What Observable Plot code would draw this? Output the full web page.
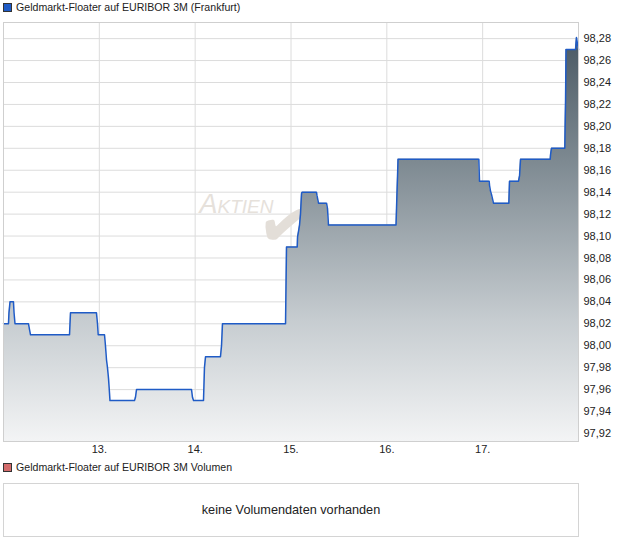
<!DOCTYPE html>
<html><head><meta charset="utf-8">
<script src="https://cdn.jsdelivr.net/npm/d3@7"></script>
<script src="https://cdn.jsdelivr.net/npm/@observablehq/plot@0.6"></script>
<style>
body{margin:0;background:#fff;font-family:"Liberation Sans",Arial,sans-serif;font-size:10.6px;color:#222;}
.leg{position:relative;height:18px;line-height:13px;}
.sw{position:absolute;left:3px;top:3px;width:7px;height:7px;border:1px solid #333;}
.lt{position:absolute;left:16px;top:1px;white-space:nowrap;}
#chart svg{display:block;}
#vol{margin-left:3px;width:574px;height:52px;border:1px solid #d4d4d4;display:flex;align-items:center;justify-content:center;font-size:12.7px;color:#222;}
</style></head><body>
<div class="leg"><span class="sw" style="background:#1f5bc6"></span><span class="lt" id="t1"></span></div>
<div id="chart"></div>
<div class="leg" style="height:23px"><span class="sw" style="background:#d36b6b;top:3px"></span><span class="lt" id="t2"></span></div>
<div id="vol"></div>
<script>
const seriesTitle = "Geldmarkt-Floater auf EURIBOR 3M (Frankfurt)";
const volumeTitle = "Geldmarkt-Floater auf EURIBOR 3M Volumen";
const volumeNote = "keine Volumendaten vorhanden";
const watermark = "Aktien";
const checkGlyph = "\u2714\uFE0E";

// time as fractional day of month
const times = [12.000,12.052,12.057,12.068,12.104,12.110,12.120,12.261,12.271,12.282,12.689,12.699,12.970,12.981,12.988,
  13.054,13.064,13.075,13.085,13.096,13.106,13.111,13.367,13.377,13.388,13.962,13.972,13.983,
  14.087,14.097,14.108,14.264,14.275,14.285,14.943,14.953,
  15.065,15.068,15.078,15.089,15.099,15.110,15.117,15.266,15.271,15.287,15.371,15.381,15.391,
  16.096,16.101,16.117,16.960,16.967,
  17.068,17.072,17.082,17.092,17.113,17.273,17.280,17.374,17.385,17.395,17.705,17.708,17.718,17.857,17.865,17.870,17.969,17.979,17.990,18.000];
const prices = [98.02,98.02,98.03,98.04,98.04,98.03,98.02,98.02,98.015,98.01,98.01,98.03,98.03,98.02,98.01,
  98.01,98.00,97.987,97.98,97.97,97.957,97.95,97.95,97.953,97.96,97.96,97.953,97.95,
  97.95,97.98,97.99,97.99,98.00,98.02,98.02,98.09,
  98.09,98.099,98.104,98.11,98.12,98.139,98.14,98.14,98.137,98.13,98.13,98.125,98.11,
  98.11,98.125,98.17,98.17,98.15,
  98.15,98.146,98.141,98.138,98.13,98.13,98.15,98.15,98.155,98.17,98.17,98.174,98.18,98.18,98.225,98.27,98.27,98.281,98.275,98.27];
const yTicks = [97.92,97.94,97.96,97.98,98.00,98.02,98.04,98.06,98.08,98.10,98.12,98.14,98.16,98.18,98.20,98.22,98.24,98.26,98.28];
const xTicks = [13,14,15,16,17];
const xDomain = [12,18];
const yDomain = [97.9127,98.2947];

document.getElementById("t1").textContent = seriesTitle;
document.getElementById("t2").textContent = volumeTitle;
document.getElementById("vol").textContent = volumeNote;

const data = times.map((t,i)=>({t, p: prices[i]}));
const fmt = v => v.toFixed(2).replace(".", ",");

const chart = Plot.plot({
  width:620, height:442, marginTop:4, marginLeft:3, marginRight:42, marginBottom:19,
  style:{fontFamily:"Liberation Sans, Arial, sans-serif", fontSize:"11px", color:"#222", background:"#fff", overflow:"visible"},
  x:{domain:xDomain, ticks:xTicks, tickFormat:d=>d+".", tickSize:0, tickPadding:4, label:null},
  y:{domain:yDomain, ticks:yTicks, tickFormat:fmt, tickSize:0, tickPadding:5, label:null, axis:"right"},
  marks:[
    Plot.gridY(yTicks,{stroke:"#dcdcdc", strokeOpacity:1}),
    Plot.gridX(xTicks,{stroke:"#dcdcdc", strokeOpacity:1}),
    Plot.text([watermark],{text:d=>d, frameAnchor:"top-left", lineAnchor:"middle", dx:233, dy:182, textAnchor:"middle", fontSize:27, fontStyle:"italic", fontVariant:"small-caps", letterSpacing:"1px", fill:"#e6e1db"}),
    Plot.text([checkGlyph],{text:d=>d, frameAnchor:"top-left", lineAnchor:"middle", dx:282, dy:204, textAnchor:"middle", fontFamily:"DejaVu Sans", fontSize:66, rotate:10, fill:"#e3ded8"}),
    Plot.areaY(data,{x:"t", y1:yDomain[0], y2:"p", fill:"url(#pgrad)"}),
    Plot.line(data,{x:"t", y:"p", stroke:"#1f5bc6", strokeWidth:1.5}),
    Plot.frame({stroke:"#cfcfcf"})
  ]
});
const ns = "http://www.w3.org/2000/svg";
const defs = document.createElementNS(ns,"defs");
defs.innerHTML = '<linearGradient id="pgrad" gradientUnits="userSpaceOnUse" x1="0" y1="4" x2="0" y2="423">'+
  '<stop offset="0" stop-color="#44535e"/><stop offset="0.33" stop-color="#7d8991"/>'+
  '<stop offset="0.71" stop-color="#c6ccd0"/><stop offset="1" stop-color="#f3f4f5"/></linearGradient>';
chart.prepend(defs);
document.getElementById("chart").appendChild(chart);
</script>
</body></html>
